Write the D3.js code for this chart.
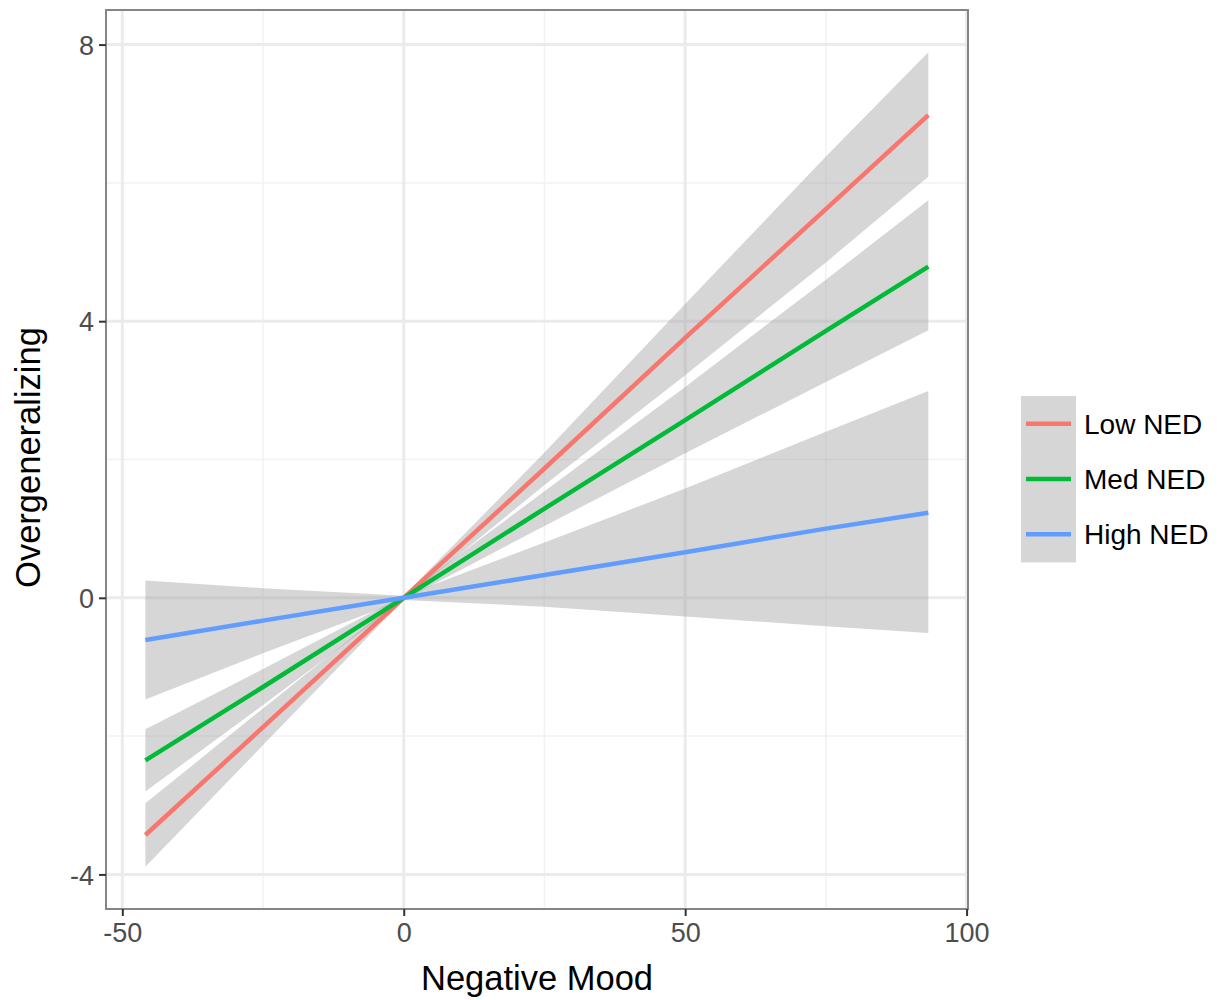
<!DOCTYPE html>
<html>
<head>
<meta charset="utf-8">
<script src="https://cdn.jsdelivr.net/npm/d3@7"></script>
<style>
  html, body { margin: 0; padding: 0; background: #fff; }
  svg { display: block; font-family: "Liberation Sans", Arial, Helvetica, sans-serif; }
</style>
</head>
<body>
<svg id="chart" width="1227" height="1000"></svg>
<script>
// ---- data ----
const xValues = [-45.9, -25, 0, 25, 50, 75, 93.2];
const seriesNames = ["Low NED", "Med NED", "High NED"];
const seriesColors = ["#F8766D", "#00BA38", "#619CFF"];
const lowFit   = [-3.43, -1.87, 0, 1.87, 3.76, 5.62, 6.98];
const lowUpper = [-2.97, -1.60, 0.03, 2.10, 4.25, 6.38, 7.89];
const lowLower = [-3.89, -2.13, -0.03, 1.63, 3.22, 4.85, 6.09];
const medFit   = [-2.35, -1.29, 0, 1.29, 2.57, 3.86, 4.79];
const medUpper = [-1.90, -1.03, 0.03, 1.54, 3.05, 4.60, 5.75];
const medLower = [-2.80, -1.55, -0.03, 1.04, 2.09, 3.12, 3.87];
const highFit   = [-0.61, -0.33, 0, 0.33, 0.66, 1.00, 1.23];
const highUpper = [0.25, 0.14, 0.03, 0.80, 1.58, 2.40, 2.99];
const highLower = [-1.47, -0.80, -0.03, -0.13, -0.27, -0.41, -0.51];
const xMajorTicks = [-50, 0, 50, 100];
const xMinorTicks = [-25, 25, 75];
const yMajorTicks = [-4, 0, 4, 8];
const yMinorTicks = [-2, 2, 6];
const xTitle = "Negative Mood";
const yTitle = "Overgeneralizing";

const series = [
  { name: seriesNames[0], color: seriesColors[0], fit: lowFit, upper: lowUpper, lower: lowLower },
  { name: seriesNames[1], color: seriesColors[1], fit: medFit, upper: medUpper, lower: medLower },
  { name: seriesNames[2], color: seriesColors[2], fit: highFit, upper: highUpper, lower: highLower }
];

// ---- layout ----
const panel = { left: 106, right: 968, top: 10, bottom: 909 };
const svg = d3.select("#chart");

const x = d3.scaleLinear().domain([-52.9, 100.25]).range([panel.left, panel.right]);
const y = d3.scaleLinear().domain([-4.5, 8.5]).range([panel.bottom, panel.top]);

svg.append("defs").append("clipPath").attr("id", "clip")
  .append("rect").attr("x", panel.left).attr("y", panel.top)
  .attr("width", panel.right - panel.left).attr("height", panel.bottom - panel.top);

// grid
const grid = svg.append("g");
grid.selectAll(".xminor").data(xMinorTicks).join("line")
  .attr("x1", d => x(d)).attr("x2", d => x(d))
  .attr("y1", panel.top).attr("y2", panel.bottom)
  .attr("stroke", "#f2f2f2").attr("stroke-width", 1.5);
grid.selectAll(".yminor").data(yMinorTicks).join("line")
  .attr("y1", d => y(d)).attr("y2", d => y(d))
  .attr("x1", panel.left).attr("x2", panel.right)
  .attr("stroke", "#f2f2f2").attr("stroke-width", 1.5);
grid.selectAll(".xmajor").data(xMajorTicks).join("line")
  .attr("x1", d => x(d)).attr("x2", d => x(d))
  .attr("y1", panel.top).attr("y2", panel.bottom)
  .attr("stroke", "#ebebeb").attr("stroke-width", 3);
grid.selectAll(".ymajor").data(yMajorTicks).join("line")
  .attr("y1", d => y(d)).attr("y2", d => y(d))
  .attr("x1", panel.left).attr("x2", panel.right)
  .attr("stroke", "#ebebeb").attr("stroke-width", 3);

// bands
const plot = svg.append("g").attr("clip-path", "url(#clip)");
const area = d3.area()
  .x((d, i) => x(xValues[i]))
  .y0(d => y(d[0])).y1(d => y(d[1]));
series.forEach(s => {
  const pts = s.lower.map((v, i) => [v, s.upper[i]]);
  plot.append("path").datum(pts)
    .attr("d", area)
    .attr("fill", "#999999").attr("fill-opacity", 0.4);
});
const line = d3.line().x((d, i) => x(xValues[i])).y(d => y(d));
series.forEach(s => {
  plot.append("path").datum(s.fit)
    .attr("d", line)
    .attr("fill", "none").attr("stroke", s.color).attr("stroke-width", 4.5);
});

// panel border
svg.append("rect")
  .attr("x", panel.left).attr("y", panel.top)
  .attr("width", panel.right - panel.left).attr("height", panel.bottom - panel.top)
  .attr("fill", "none").attr("stroke", "#858585").attr("stroke-width", 2);

// axes
const xAxis = d3.axisBottom(x).tickValues(xMajorTicks).tickSize(7).tickPadding(6).tickFormat(d => String(d));
const yAxis = d3.axisLeft(y).tickValues(yMajorTicks).tickSize(7).tickPadding(5).tickFormat(d => String(d));
const gx = svg.append("g").attr("transform", `translate(0,${panel.bottom})`).call(xAxis);
const gy = svg.append("g").attr("transform", `translate(${panel.left},0)`).call(yAxis);
[gx, gy].forEach(g => {
  g.select(".domain").remove();
  g.selectAll(".tick line").attr("stroke", "#333333").attr("stroke-width", 2);
  g.selectAll(".tick text").attr("fill", "#4d4d4d")
    .style("font-size", "27px").style("font-family", "Liberation Sans, Arial, sans-serif");
});
gx.selectAll(".tick text").attr("dy", "0.74em");
gy.selectAll(".tick text").attr("dy", "0.36em");

// titles
svg.append("text").attr("x", (panel.left + panel.right) / 2).attr("y", 990)
  .attr("text-anchor", "middle").attr("fill", "#000")
  .style("font-size", "34.5px").text(xTitle);
svg.append("text")
  .attr("transform", `translate(40,${(panel.top + panel.bottom) / 2 - 2}) rotate(-90)`)
  .attr("text-anchor", "middle").attr("fill", "#000")
  .style("font-size", "34.5px").text(yTitle);

// legend
const keyX = 1021, keyW = 55, keyH = 55.3, keyY0 = 396;
const legend = svg.append("g");
legend.selectAll("rect").data(series).join("rect")
  .attr("x", keyX).attr("y", (d, i) => keyY0 + i * keyH)
  .attr("width", keyW).attr("height", keyH + 0.5)
  .attr("fill", "#d6d6d6");
legend.selectAll("line").data(series).join("line")
  .attr("x1", keyX + 5).attr("x2", keyX + keyW - 5)
  .attr("y1", (d, i) => keyY0 + i * keyH + keyH / 2)
  .attr("y2", (d, i) => keyY0 + i * keyH + keyH / 2)
  .attr("stroke", d => d.color).attr("stroke-width", 4.5);
legend.selectAll("text").data(series).join("text")
  .attr("x", keyX + keyW + 8)
  .attr("y", (d, i) => keyY0 + i * keyH + keyH / 2)
  .attr("dy", "0.36em").attr("fill", "#000")
  .style("font-size", "28px").text(d => d.name);
</script>
</body>
</html>
